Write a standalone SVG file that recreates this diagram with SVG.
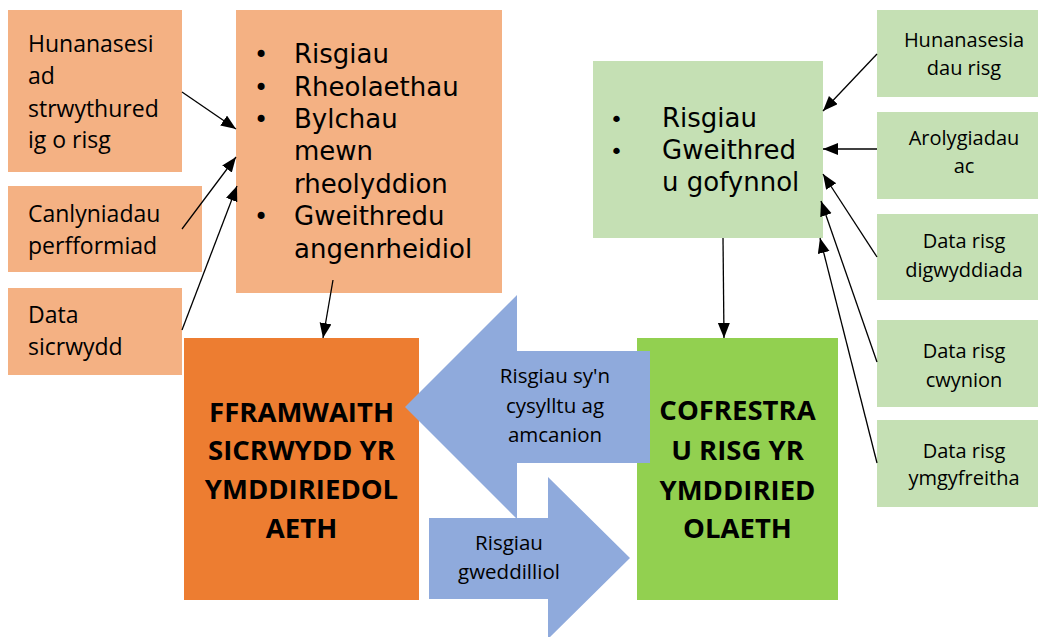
<svg xmlns="http://www.w3.org/2000/svg" width="1038" height="637" viewBox="0 0 1038 637">
<style>
.lo{fill:#F4B183}
.lg{fill:#C5E0B4}
.t{font-family:"Open Sans","Liberation Sans",sans-serif;fill:#000}
.s{font-size:23px}
.r{font-size:20px;text-anchor:middle}
.a{font-size:20.5px;text-anchor:middle}
.v{font-family:"DejaVu Sans","Liberation Sans",sans-serif;fill:#000}
.b{font-family:"Open Sans","Liberation Sans",sans-serif;font-weight:bold;font-size:27.5px;text-anchor:middle;fill:#000}
.c{stroke:#000;stroke-width:1.3;fill:none;marker-end:url(#ah)}
</style>
<defs>
<marker id="ah" markerUnits="userSpaceOnUse" markerWidth="16" markerHeight="14" refX="15" refY="6" orient="auto">
<path d="M0,0 L15,6 L0,12 z" fill="#000"/>
</marker>
</defs>
<rect width="1038" height="637" fill="#fff"/>

<g id="n-self-assess">
<rect class="lo" x="8" y="10" width="174" height="162"/>
<text class="t s" x="28" y="52">Hunanasesi</text>
<text class="t s" x="28" y="84">ad</text>
<text class="t s" x="28" y="117">strwythured</text>
<text class="t s" x="28" y="148">ig o risg</text>
</g>
<g id="n-perf">
<rect class="lo" x="8" y="186" width="194" height="86"/>
<text class="t s" x="28" y="222">Canlyniadau</text>
<text class="t s" x="28" y="254">perfformiad</text>
</g>
<g id="n-assurance-data">
<rect class="lo" x="8" y="288" width="174" height="87"/>
<text class="t s" x="28" y="323">Data</text>
<text class="t s" x="28" y="355">sicrwydd</text>
</g>
<g id="n-left-list">
<rect class="lo" x="236" y="10" width="266" height="283"/>
<g class="v" font-size="26">
<text x="254" y="63" font-size="24">•</text><text x="294" y="63">Risgiau</text>
<text x="254" y="96" font-size="24">•</text><text x="294" y="96">Rheolaethau</text>
<text x="254" y="128" font-size="24">•</text><text x="294" y="128">Bylchau</text>
<text x="294" y="160">mewn</text>
<text x="294" y="193">rheolyddion</text>
<text x="254" y="225" font-size="24">•</text><text x="294" y="225">Gweithredu</text>
<text x="294" y="258">angenrheidiol</text>
</g>
</g>

<g id="n-framework">
<rect x="184" y="338" width="235" height="262" fill="#ED7D31"/>
<text class="b" x="301.5" y="422">FFRAMWAITH</text>
<text class="b" x="301.5" y="460">SICRWYDD YR</text>
<text class="b" x="301.5" y="499">YMDDIRIEDOL</text>
<text class="b" x="301.5" y="538">AETH</text>
</g>
<g id="n-register">
<rect x="637" y="338" width="201" height="262" fill="#92D050"/>
<text class="b" x="737.5" y="420">COFRESTRA</text>
<text class="b" x="737.5" y="460">U RISG YR</text>
<text class="b" x="737.5" y="500">YMDDIRIED</text>
<text class="b" x="737.5" y="538">OLAETH</text>
</g>

<g id="n-right-list">
<rect class="lg" x="593" y="61" width="230" height="177"/>
<g class="v" font-size="26">
<text x="610" y="127" font-size="22">•</text><text x="662" y="127">Risgiau</text>
<text x="610" y="159" font-size="22">•</text><text x="662" y="159">Gweithred</text>
<text x="662" y="191">u gofynnol</text>
</g>
</g>

<g id="n-r1">
<rect class="lg" x="877" y="10" width="161" height="87"/>
<text class="t r" x="964" y="47">Hunanasesia</text>
<text class="t r" x="964" y="75">dau risg</text>
</g>
<g id="n-r2">
<rect class="lg" x="877" y="112" width="161" height="87"/>
<text class="t r" x="964" y="145">Arolygiadau</text>
<text class="t r" x="964" y="173">ac</text>
</g>
<g id="n-r3">
<rect class="lg" x="877" y="214" width="161" height="86"/>
<text class="t r" x="964" y="248">Data risg</text>
<text class="t r" x="964" y="277">digwyddiada</text>
</g>
<g id="n-r4">
<rect class="lg" x="877" y="320" width="161" height="87"/>
<text class="t r" x="964" y="358">Data risg</text>
<text class="t r" x="964" y="387">cwynion</text>
</g>
<g id="n-r5">
<rect class="lg" x="877" y="420" width="161" height="87"/>
<text class="t r" x="964" y="458">Data risg</text>
<text class="t r" x="964" y="485">ymgyfreitha</text>
</g>

<g id="n-arrow-left">
<path d="M405,407 L517,295 L517,351 L650,351 L650,463 L517,463 L517,519 Z" fill="#8FAADC"/>
<text class="t a" x="555" y="383">Risgiau sy'n</text>
<text class="t a" x="555" y="413">cysylltu ag</text>
<text class="t a" x="555" y="442">amcanion</text>
</g>
<g id="n-arrow-right">
<path d="M429,518 L548,518 L548,477 L630,558 L548,639 L548,599 L429,599 Z" fill="#8FAADC"/>
<text class="t a" x="509" y="550">Risgiau</text>
<text class="t a" x="509" y="579">gweddilliol</text>
</g>

<g id="connectors">
<line class="c" x1="182" y1="92" x2="236" y2="129"/>
<line class="c" x1="182" y1="229" x2="236" y2="157"/>
<line class="c" x1="182" y1="330" x2="237" y2="186"/>
<line class="c" x1="333" y1="280" x2="323" y2="338"/>
<line class="c" x1="877" y1="54" x2="823" y2="111"/>
<line class="c" x1="877" y1="149" x2="823" y2="149"/>
<line class="c" x1="877" y1="257" x2="823" y2="174"/>
<line class="c" x1="877" y1="362" x2="821" y2="201"/>
<line class="c" x1="877" y1="463" x2="820" y2="238"/>
<line class="c" x1="723" y1="238" x2="724" y2="338"/>
</g>
</svg>
